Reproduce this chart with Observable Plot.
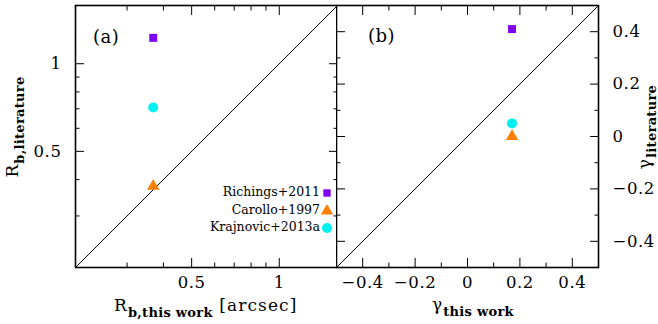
<!DOCTYPE html>
<html>
<head>
<meta charset="utf-8">
<script src="https://cdn.jsdelivr.net/npm/d3@7"></script>
<script src="https://cdn.jsdelivr.net/npm/@observablehq/plot@0.6"></script>
<style>
  html, body { margin: 0; padding: 0; background: #fff; }
  #chart { position: relative; width: 658px; height: 324px; font-family: "DejaVu Serif", "Liberation Serif", serif; color: #000; }
  #chart > svg { position: absolute; top: 0; background: transparent; }
  #chart > svg.ticks { pointer-events: none; }
  .lbl { position: absolute; white-space: nowrap; font-size: 17px; line-height: 1; letter-spacing: 1.1px; }
  .lbl sub { font-size: 13px; font-weight: bold; vertical-align: -6px; letter-spacing: 0.3px; font-family: "DejaVu Serif", serif; }
  .rot { transform-origin: center; transform: translate(-50%, -50%) rotate(-90deg); }
  .panel { position: absolute; font-size: 18px; line-height: 1; letter-spacing: 0.5px; }
  .legend { position: absolute; font-size: 12.5px; line-height: 1; }
  .legend .row { position: absolute; right: 0; display: flex; align-items: center; white-space: nowrap; }
  .legend svg { margin-left: 1px; }
</style>
</head>
<body>
<div id="chart"></div>
<script>
// ---- data ----
const sources = ["Richings+2011", "Carollo+1997", "Krajnovic+2013a"];
const symbols = ["square", "triangle", "circle"];
const colors = ["#8000ff", "#ff8000", "#00f0f0"];
const dotR = [4.5, 4.6, 5];
// panel (a): break radius [arcsec]
const rbThisWork = [0.369, 0.369, 0.369];
const rbLiterature = [1.227, 0.38, 0.707];
// panel (b): inner slope gamma
const gammaThisWork = [0.17, 0.17, 0.17];
const gammaLiterature = [0.41, 0.0, 0.05];
// axes
const rbDomain = [Math.pow(10, -0.7), Math.pow(10, 0.2)];
const rbMajor = [0.5, 1];
const rbMinor = [0.3, 0.4, 0.6, 0.7, 0.8, 0.9];
const gDomain = [-0.5, 0.5];
const gMajor = [-0.4, -0.2, 0, 0.2, 0.4];
const gMinor = [-0.3, -0.1, 0.1, 0.3];

const chart = document.getElementById("chart");
const H = 324, mTop = 5, mBottom = 57;
const majLen = 9, minLen = 4.5;

const axisFont = {fontSize: 16.5, letterSpacing: "0.6px"};
const plotStyle = {fontFamily: "DejaVu Serif, serif", fontSize: "16px", background: "transparent", color: "#000", letterSpacing: "0.6px"};

function dotMarks(xs, ys) {
  return sources.map((s, i) => Plot.dot([{x: xs[i], y: ys[i]}], {
    x: "x", y: "y", symbol: symbols[i], fill: colors[i], r: dotR[i], stroke: "none"
  }));
}

// separate transparent layer: inward ticks on all four sides + frame, same scales
function tickLayer(geom, scales, major, minor) {
  const fw = geom.width - geom.marginLeft - geom.marginRight;
  const marks = [];
  for (const [vals, L] of [[major, majLen], [minor, minLen]]) {
    marks.push(Plot.axisX(vals, {anchor: "bottom", tickSize: -L, fill: "none", stroke: "#000", label: null}));
    marks.push(Plot.axisX(vals, {anchor: "top", tickSize: -L, fill: "none", stroke: "#000", label: null}));
    marks.push(Plot.axisY(vals, {anchor: "right", tickSize: -L, fill: "none", stroke: "#000", label: null}));
    marks.push(Plot.ruleY(vals, {y: d => d, insetRight: fw - L, stroke: "#000"}));
  }
  marks.push(Plot.frame({stroke: "#000", strokeWidth: 1.6}));
  const p = Plot.plot({...geom, ...scales, marks});
  p.classList.add("ticks");
  return p;
}

// ---- panel (a) ----
const geomA = {width: 337, height: H, marginLeft: 75, marginRight: 0, marginTop: mTop, marginBottom: mBottom};
const scalesA = {x: {type: "log", domain: rbDomain}, y: {type: "log", domain: rbDomain}};
const diagA = rbDomain.map(v => ({v}));
const plotA = Plot.plot({
  ...geomA, ...scalesA,
  style: plotStyle,
  marks: [
    Plot.line(diagA, {x: "v", y: "v", stroke: "#000", strokeWidth: 1}),
    Plot.axisX(rbMajor, {tickSize: 0, tickPadding: 9, tickSpacing: 5, tickFormat: d => String(d), label: null, ...axisFont}),
    Plot.axisY(rbMajor, {anchor: "left", tickSize: 0, tickPadding: 14, tickSpacing: 5, tickFormat: d => String(d), label: null, ...axisFont}),
    ...dotMarks(rbThisWork, rbLiterature)
  ]
});
plotA.style.left = "0px";
chart.appendChild(plotA);

// ---- panel (b) ----
const geomB = {width: 322, height: H, marginLeft: 0, marginRight: 60, marginTop: mTop, marginBottom: mBottom};
const scalesB = {x: {domain: gDomain}, y: {domain: gDomain}};
const diagB = gDomain.map(v => ({v}));
const fmt = d3.format(".1~f");
const plotB = Plot.plot({
  ...geomB, ...scalesB,
  style: plotStyle,
  marks: [
    Plot.line(diagB, {x: "v", y: "v", stroke: "#000", strokeWidth: 1}),
    Plot.axisX(gMajor, {tickSize: 0, tickPadding: 9, tickSpacing: 5, tickFormat: fmt, label: null, ...axisFont}),
    Plot.axisY(gMajor, {anchor: "right", tickSize: 0, tickPadding: 14, tickSpacing: 5, tickFormat: fmt, label: null, ...axisFont}),
    ...dotMarks(gammaThisWork, gammaLiterature)
  ]
});
plotB.style.left = "336px";
chart.appendChild(plotB);

// ---- text labels ----
function addLabel(html, css, cls) {
  const d = document.createElement("div");
  d.className = cls || "lbl";
  d.innerHTML = html;
  Object.assign(d.style, css);
  chart.appendChild(d);
  return d;
}
addLabel("R<sub>b,this work</sub> [arcsec]", {left: "114px", top: "297px"});
addLabel("R<sub>b,literature</sub>", {left: "15px", top: "127px"}, "lbl rot");
addLabel("&gamma;<sub>this work</sub>", {left: "432px", top: "296px"});
addLabel("&gamma;<sub>literature</sub>", {left: "647px", top: "127px"}, "lbl rot");
addLabel("(a)", {left: "93px", top: "28px"}, "panel");
addLabel("(b)", {left: "368px", top: "27px"}, "panel");

// ---- legend ----
const leg = document.createElement("div");
leg.className = "legend";
Object.assign(leg.style, {left: "0px", top: "0px", width: "333px", height: "324px"});
const rowCenters = [192.5, 210.5, 227.5];
sources.forEach((s, i) => {
  const row = document.createElement("div");
  row.className = "row";
  row.style.top = (rowCenters[i] - 7) + "px";
  row.style.height = "14px";
  const t = document.createElement("span");
  t.textContent = s;
  row.appendChild(t);
  const sz = 12;
  const type = symbols[i] === "square" ? d3.symbolSquare : symbols[i] === "triangle" ? d3.symbolTriangle : d3.symbolCircle;
  const sym = d3.symbol(type, Math.PI * dotR[i] * dotR[i] * (i === 0 ? 0.85 : 1))();
  const svg = d3.create("svg").attr("width", sz).attr("height", sz).attr("viewBox", `${-sz/2} ${-sz/2} ${sz} ${sz}`);
  svg.append("path").attr("d", sym).attr("fill", colors[i]);
  row.appendChild(svg.node());
  leg.appendChild(row);
});
chart.appendChild(leg);

// ---- tick layers on top ----
const tA = tickLayer(geomA, scalesA, rbMajor, rbMinor);
tA.style.left = "0px";
chart.appendChild(tA);
const tB = tickLayer(geomB, scalesB, gMajor, gMinor);
tB.style.left = "336px";
chart.appendChild(tB);
</script>
</body>
</html>
